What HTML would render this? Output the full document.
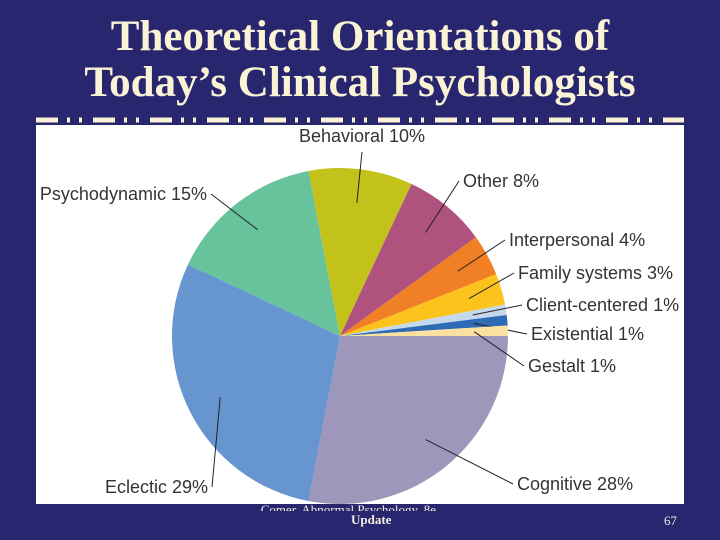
<!DOCTYPE html>
<html><head><meta charset="utf-8"><style>
body{margin:0;width:720px;height:540px;background:#28266f;overflow:hidden;position:relative;font-family:"Liberation Sans",sans-serif}
#title{position:absolute;left:0;top:14px;width:720px;text-align:center;color:#fbf3d6;font-family:"Liberation Serif",serif;font-weight:bold;font-size:43px;line-height:46px}
#panel{position:absolute;left:36px;top:125px;width:648px;height:379px;background:#fff}
.foot{position:absolute;color:#f3eee0;font-family:"Liberation Serif",serif;font-size:13px}
</style></head><body>
<div id="title">Theoretical Orientations of<br>Today’s Clinical Psychologists</div>
<svg style="position:absolute;left:0;top:0" width="720" height="540">
<line x1="36" y1="120" x2="684" y2="120" stroke="#fbf3d6" stroke-width="5" stroke-dasharray="22,9,3,9,3,11"/>
</svg>
<div id="panel"></div>
<svg id="chart" style="position:absolute;left:0;top:0" width="720" height="540"></svg>
<div class="foot" style="left:250px;width:200px;text-align:center;line-height:14px;height:8px;overflow:hidden;top:503px">Comer, Abnormal Psychology, 8e, DSM-5</div>
<div class="foot" style="left:351px;top:512px;font-weight:bold">Update</div>
<div class="foot" style="left:664px;top:513px">67</div>
<script>
const categories=["Cognitive","Eclectic","Psychodynamic","Behavioral","Other","Interpersonal","Family systems","Client-centered","Existential","Gestalt"];
const values=[28,29,15,10,8,4,3,1,1,1];
const colors=["#9f97bb","#6795d0","#66c39b","#c3c21a","#b0527e","#f07f25","#fcc31c","#c6d9ec","#2e6bb5","#fbe0a0"];
const labelPos=[[517,490,"start"],[208,493,"end"],[207,200,"end"],[362,142,"middle"],[463,187,"start"],[509,246,"start"],[518,279,"start"],[526,311,"start"],[531,340,"start"],[528,372,"start"]];
const ns="http://www.w3.org/2000/svg",svg=document.getElementById("chart");
const cx=340,cy=336,r=168;
const total=values.reduce((a,b)=>a+b,0);
function pt(a,rr){return [cx+rr*Math.cos(a),cy+rr*Math.sin(a)];}
let a0=0;
values.forEach((v,i)=>{
 const a1=a0+v/total*2*Math.PI;
 const p0=pt(a0,r),p1=pt(a1,r);
 const path=document.createElementNS(ns,"path");
 path.setAttribute("d",`M${cx},${cy}L${p0[0]},${p0[1]}A${r},${r} 0 ${a1-a0>Math.PI?1:0} 1 ${p1[0]},${p1[1]}Z`);
 path.setAttribute("fill",colors[i]);
 
 
 svg.appendChild(path);
 const am=(a0+a1)/2,lp=labelPos[i];
 const s=pt(am,r*0.8);
 const ln=document.createElementNS(ns,"line");
 const ex=lp[2]==="start"?lp[0]-4:lp[2]==="end"?lp[0]+4:lp[0];
 const ey=lp[2]==="middle"?lp[1]+10:lp[1]-6;
 ln.setAttribute("x1",s[0]);ln.setAttribute("y1",s[1]);ln.setAttribute("x2",ex);ln.setAttribute("y2",ey);
 ln.setAttribute("stroke","#222");ln.setAttribute("stroke-width","1");
 
 
 svg.appendChild(ln);
 const t=document.createElementNS(ns,"text");
 t.setAttribute("x",lp[0]);t.setAttribute("y",lp[1]);t.setAttribute("text-anchor",lp[2]);
 t.setAttribute("font-size","18");t.setAttribute("fill","#333");t.setAttribute("font-family","Liberation Sans, sans-serif");
 t.textContent=categories[i]+" "+v+"%";
 
 
 svg.appendChild(t);
 a0=a1;
});
</script>
</body></html>
